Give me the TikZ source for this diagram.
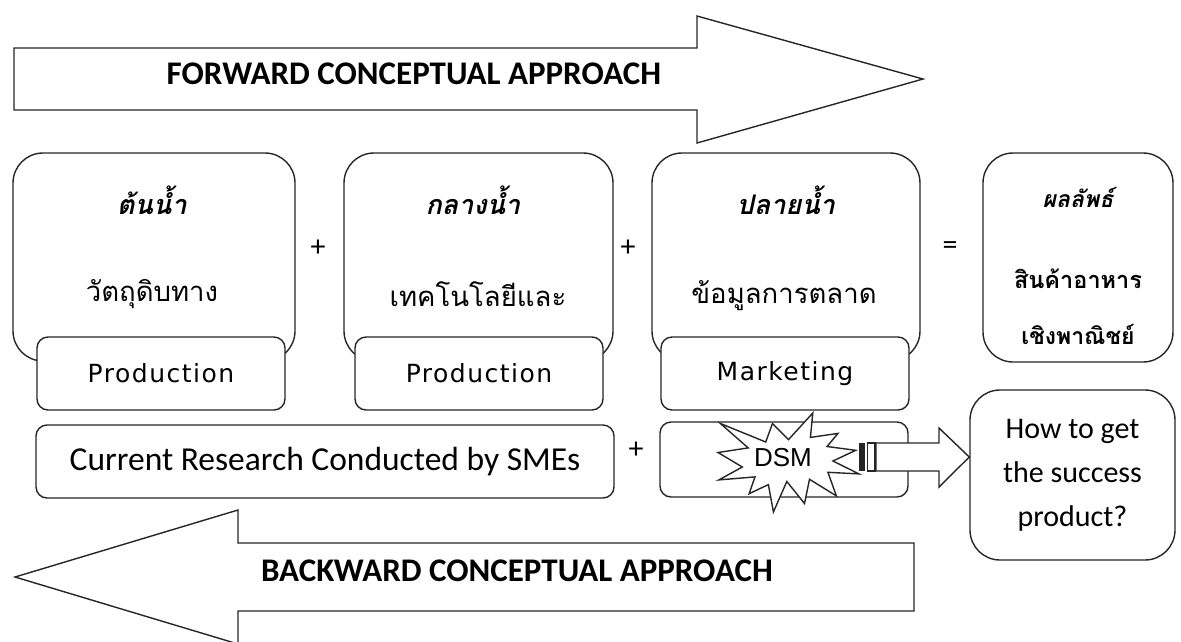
\documentclass[tikz,border=0pt]{standalone}
\usepackage{fontspec}
\setmainfont{Carlito}
\newfontfamily\thai[Script=Thai]{Loma}
\newfontfamily\prodfont[LetterSpace=6]{DejaVu Sans}
\newfontfamily\dsmfont{Liberation Sans}
\definecolor{lc}{gray}{0.15}
\tikzset{
  shapeline/.style={draw=lc, line width=1.4pt, fill=white, line join=miter},
  bigbox/.style={shapeline, rectangle, rounded corners=30pt, inner sep=0pt},
  smallbox/.style={shapeline, rectangle, rounded corners=11pt, inner sep=0pt},
  titletxt/.style={font=\thai\bfseries\itshape\fontsize{27}{32}\selectfont, inner sep=0pt},
  subtxt/.style={font=\thai\fontsize{27.5}{32}\selectfont, inner sep=0pt},
  restxt/.style={font=\thai\bfseries\fontsize{23.5}{28}\selectfont, inner sep=0pt},
  prodtxt/.style={font=\prodfont\fontsize{25}{28}\selectfont},
  optxt/.style={font=\fontsize{30}{34}\selectfont, inner sep=0pt},
  bigtxt/.style={font=\bfseries\fontsize{33}{38}\selectfont, inner sep=0pt}
}
\begin{document}
\begin{tikzpicture}[x=1pt,y=-1pt]
\useasboundingbox (0,0) rectangle (1181,641);

% forward arrow
\draw[shapeline] (14,48) -- (697,48) -- (697,16) -- (923,79) -- (697,143) -- (697,110) -- (14,110) -- cycle;
\node[bigtxt] (fwd) at (414,74) {FORWARD CONCEPTUAL APPROACH};

% big boxes
\node[bigbox, minimum width=282pt, minimum height=208pt] (up) at (154,257) {};
\node[bigbox, minimum width=269pt, minimum height=208pt] (mid) at (478.5,257) {};
\node[bigbox, minimum width=268pt, minimum height=208pt] (down) at (786,257) {};
\node[bigbox, minimum width=190pt, minimum height=209pt] (res) at (1078,257.5) {};

\node[titletxt] (t1) at (152,200) {ต้นน้ำ};
\node[subtxt] (s1) at (152,294) {วัตถุดิบทาง};
\node[titletxt] (t2) at (473,200) {กลางน้ำ};
\node[subtxt] (s2) at (478,294) {เทคโนโลยีและ};
\node[titletxt] (t3) at (786,200) {ปลายน้ำ};
\node[subtxt] (s3) at (784,296) {ข้อมูลการตลาด};
\node[titletxt, font=\thai\bfseries\itshape\fontsize{23}{28}\selectfont] (t4) at (1078,197) {ผลลัพธ์};
\node[restxt] (s4a) at (1078,279) {สินค้าอาหาร};
\node[restxt, font=\thai\bfseries\fontsize{23}{28}\selectfont] (s4b) at (1078,334) {เชิงพาณิชย์};

% operators
\node[optxt] (p1) at (318,248) {+};
\node[optxt] (p2) at (628,248) {+};
\node[optxt] (eq) at (950,248) {=};
\node[optxt] (p3) at (636,450) {+};

% small boxes
\node[smallbox, minimum width=248pt, minimum height=73pt, prodtxt] (pr1) at (161,373.5) {Production};
\node[smallbox, minimum width=248pt, minimum height=73pt, prodtxt] (pr2) at (479,373.5) {Production};
\node[smallbox, minimum width=248pt, minimum height=73pt, prodtxt] (mk) at (785,373.5) {Marketing};

\node[smallbox, minimum width=578pt, minimum height=73pt, font=\fontsize{33.5}{38}\selectfont] (cr) at (325,461.5) {Current Research Conducted by SMEs};
\node[smallbox, minimum width=248pt, minimum height=75pt] (dsmbox) at (784,459.5) {};

% starburst
\draw[shapeline] (788.5,439.6) -- (812.8,413) -- (810.4,437.4) -- (838.0,433.4) -- (827.0,446.5) -- (855.7,450.3) -- (832.9,461.0) -- (859,473.9) -- (827.9,472.3) -- (836.4,495.9) -- (809.5,479.3) -- (804.5,503.5) -- (786.8,481.5) -- (773.4,512) -- (768.4,484.6) -- (749.1,493.7) -- (755.0,476.9) -- (718.9,479.9) -- (742.3,467.0) -- (718,452.5) -- (748.2,447.9) -- (720.4,423.5) -- (765.7,442.0) -- (772.5,423.5) -- cycle;
\node[font=\dsmfont\fontsize{26}{30}\selectfont, inner sep=0pt] (dsm) at (783,458) {DSM};

% question box
\node[bigbox, minimum width=205pt, minimum height=170pt, align=center, font=\fontsize{30}{44}\selectfont] (q) at (1072.5,475) {How to get\\the success\\product?};

% striped arrow
\fill[lc] (859,443) rectangle (865,471);
\draw[draw=lc, line width=1.4pt] (867.5,443) rectangle (875,471);
\draw[shapeline] (876,443) -- (939,443) -- (939,428) -- (q.west |- 0,457) -- (939,487) -- (939,471) -- (876,471) -- cycle;

% backward arrow
\draw[shapeline] (914,543) -- (238,543) -- (238,510) -- (15,577) -- (238,644) -- (238,611) -- (914,611) -- cycle;
\node[bigtxt] (bwd) at (517,571) {BACKWARD CONCEPTUAL APPROACH};
\end{tikzpicture}
\end{document}
